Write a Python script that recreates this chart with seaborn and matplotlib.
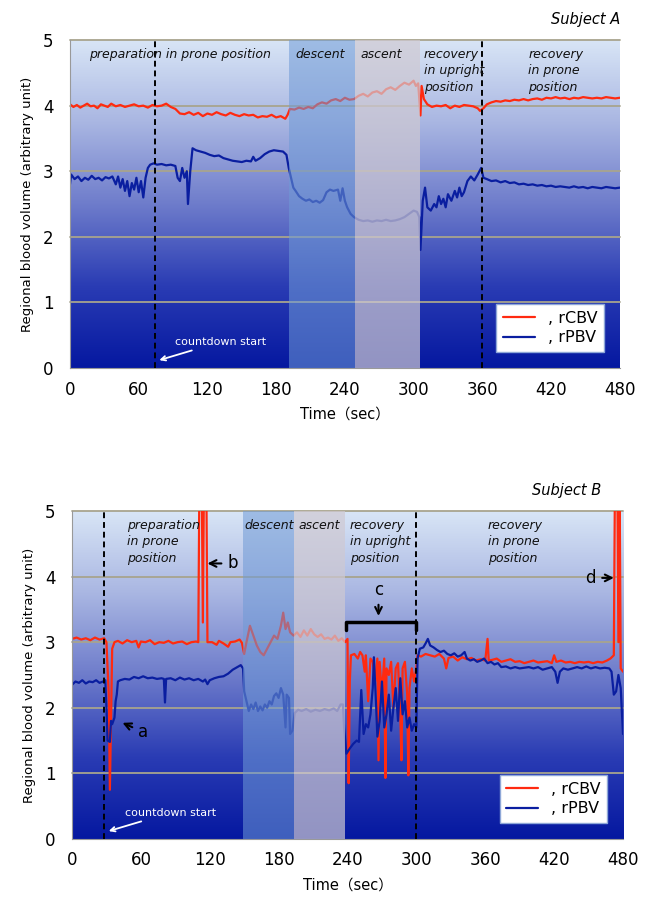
import numpy as np
import pandas as pd
import matplotlib
matplotlib.use("Agg")
import matplotlib.pyplot as plt
import seaborn as sns
from matplotlib.colors import LinearSegmentedColormap

# ---- Subject A ----
tA_cbv = [0, 3, 6, 9, 12, 15, 18, 21, 24, 27, 30, 33, 36, 40, 44, 48, 52, 56, 60, 64, 68, 72, 76, 80, 84, 88,
          92, 96, 100, 104, 108, 112, 116, 120, 124, 128, 132, 136, 140, 144, 148, 152, 156, 160, 164, 168, 172,
          176, 180, 184, 188, 190, 192, 196, 200, 204, 208, 212, 216, 220, 224, 228, 232, 236, 240, 244, 248, 252,
          256, 260, 264, 268, 272, 276, 280, 284, 288, 292, 296, 300, 302, 304, 306, 307, 309, 312, 316, 320, 324,
          328, 332, 336, 340, 344, 348, 352, 356, 358, 361, 364, 368, 372, 376, 380, 384, 388, 392, 396, 400, 404,
          408, 412, 416, 420, 424, 428, 432, 436, 440, 444, 448, 452, 456, 460, 464, 468, 472, 476, 480]
vA_cbv = [4.02, 3.98, 4.01, 3.97, 4.0, 4.03, 3.99, 4.0, 3.96, 4.02, 4.0, 3.98, 4.03, 3.99, 4.01, 3.98, 4.0, 4.02,
          3.99, 4.0, 3.97, 4.01, 3.99, 4.0, 4.03, 3.98, 3.95, 3.88, 3.87, 3.9, 3.86, 3.89, 3.84, 3.88, 3.86, 3.9,
          3.87, 3.85, 3.89, 3.86, 3.84, 3.87, 3.85, 3.86, 3.82, 3.84, 3.83, 3.86, 3.82, 3.84, 3.8, 3.86, 3.95, 3.94,
          3.97, 3.95, 3.98, 3.96, 4.02, 4.05, 4.03, 4.08, 4.1, 4.07, 4.12, 4.09, 4.1, 4.15, 4.18, 4.14, 4.2, 4.22,
          4.18, 4.25, 4.28, 4.24, 4.3, 4.35, 4.32, 4.38, 4.3, 4.34, 3.85, 4.3, 4.1, 4.02, 3.98, 4.0, 3.99, 4.01,
          3.96, 4.0, 3.98, 4.01, 4.0, 3.99, 3.96, 3.92, 3.96, 4.02, 4.05, 4.07, 4.06, 4.08, 4.07, 4.09, 4.08, 4.1,
          4.08, 4.1, 4.11, 4.09, 4.12, 4.11, 4.13, 4.11, 4.12, 4.1, 4.12, 4.11, 4.13, 4.12, 4.11, 4.12, 4.11, 4.13,
          4.12, 4.11, 4.12]

tA_pbv = [0, 1, 4, 7, 10, 13, 16, 19, 22, 25, 28, 31, 34, 37, 40, 42, 44, 46, 48, 50, 52, 54, 56, 58, 60, 62, 64,
          66, 68, 70, 73, 76, 80, 84, 88, 92, 94, 96, 98, 100, 102, 103, 105, 107, 110, 114, 118, 122, 126, 130, 134,
          138, 142, 146, 150, 154, 158, 160, 162, 166, 170, 174, 178, 182, 186, 189, 191, 193, 195, 197, 200, 203,
          206, 209, 212, 215, 218, 221, 224, 227, 230, 234, 236, 238, 240, 242, 245, 248, 252, 256, 260, 264, 268,
          272, 276, 280, 284, 288, 292, 296, 300, 303, 305, 306, 308, 310, 312, 315, 318, 320, 322, 324, 326, 328,
          330, 333, 336, 338, 340, 342, 344, 347, 350, 353, 356, 359, 361, 364, 368, 372, 376, 380, 384, 388, 392,
          396, 400, 404, 408, 412, 416, 420, 424, 428, 432, 436, 440, 444, 448, 452, 456, 460, 464, 468, 472, 476, 480]
vA_pbv = [2.8, 2.95, 2.88, 2.92, 2.85, 2.9, 2.87, 2.93, 2.88, 2.9, 2.86, 2.91, 2.89, 2.92, 2.8, 2.92, 2.75, 2.88,
          2.7, 2.85, 2.62, 2.82, 2.72, 2.9, 2.68, 2.85, 2.6, 2.9, 3.05, 3.1, 3.12, 3.1, 3.11, 3.09, 3.1, 3.08, 2.9,
          2.85, 3.05, 2.9, 3.0, 2.5, 3.0, 3.35, 3.32, 3.3, 3.28, 3.25, 3.23, 3.24, 3.2, 3.18, 3.16, 3.15, 3.14, 3.16,
          3.15, 3.22, 3.16, 3.2, 3.26, 3.3, 3.32, 3.31, 3.3, 3.25, 3.05, 2.9, 2.75, 2.7, 2.62, 2.58, 2.55, 2.57,
          2.53, 2.55, 2.52, 2.56, 2.68, 2.72, 2.7, 2.72, 2.55, 2.74, 2.55, 2.45, 2.35, 2.3, 2.26, 2.24, 2.25, 2.23,
          2.25, 2.24, 2.26, 2.24, 2.25, 2.27, 2.3, 2.35, 2.4, 2.38, 2.3, 1.8, 2.55, 2.75, 2.45, 2.4, 2.5, 2.45, 2.62,
          2.5, 2.58, 2.45, 2.65, 2.55, 2.7, 2.6, 2.75, 2.62, 2.68, 2.85, 2.92, 2.86, 2.95, 3.05, 2.9, 2.88, 2.85,
          2.86, 2.83, 2.85, 2.82, 2.83, 2.8, 2.81, 2.79, 2.8, 2.78, 2.79, 2.77, 2.78, 2.76, 2.77, 2.76, 2.75, 2.77,
          2.75, 2.76, 2.74, 2.76, 2.75, 2.74, 2.76, 2.75, 2.74, 2.75]

# ---- Subject B ----
tB_cbv = [0, 4, 8, 12, 16, 20, 24, 28, 30, 32, 33, 34, 35, 37, 40, 44, 48, 52, 56, 58, 60, 64, 68, 72, 76, 80, 84,
          88, 92, 96, 100, 104, 108, 110, 111, 113, 114, 115, 117, 118, 122, 126, 128, 132, 136, 138, 142, 146, 148,
          150, 152, 155, 158, 161, 164, 167, 170, 173, 176, 179, 182, 184, 186, 188, 190, 193, 196, 199, 202, 205,
          208, 211, 214, 217, 220, 223, 226, 229, 232, 235, 238, 240, 241, 242, 243, 246, 249, 251, 253, 255, 256,
          258, 260, 262, 264, 266, 267, 268, 270, 272, 273, 274, 276, 278, 280, 282, 284, 286, 287, 288, 290, 292,
          293, 294, 296, 298, 300, 301, 304, 308, 312, 316, 320, 324, 326, 328, 332, 336, 340, 344, 348, 352, 356,
          360, 362, 363, 366, 370, 374, 378, 382, 386, 390, 394, 398, 402, 406, 410, 414, 418, 420, 422, 426, 430,
          434, 438, 442, 446, 450, 454, 458, 462, 466, 469, 472, 473, 475, 476, 477, 478, 480]
vB_cbv = [3.05, 3.07, 3.04, 3.06, 3.03, 3.07, 3.04, 3.06, 3.0, 2.2, 0.75, 1.8, 2.9, 3.0, 3.02, 2.98, 3.03, 3.0,
          3.02, 2.92, 3.01, 3.0, 3.03, 2.97, 3.0, 2.99, 3.02, 2.98, 3.0, 3.01, 2.97, 3.0, 3.01, 3.0, 5.5, 5.5, 3.3,
          5.5, 5.5, 3.0, 3.0, 2.96, 3.02, 2.98, 2.93, 3.0, 3.01, 3.04, 2.99, 2.82, 3.0, 3.25, 3.1, 2.95, 2.85, 2.8,
          2.9, 3.0, 3.1, 3.05, 3.25, 3.45, 3.2, 3.3, 3.15, 3.1, 3.15, 3.08, 3.18, 3.1, 3.2, 3.12, 3.08, 3.12, 3.05,
          3.07, 3.04, 3.1, 3.02, 3.06, 3.0, 3.05, 0.85, 2.4, 2.8, 2.82, 2.75, 2.85, 2.8, 2.55, 2.8, 2.1, 2.75, 2.7,
          2.4, 2.75, 1.2, 2.7, 2.2, 2.75, 0.93, 2.6, 2.5, 2.7, 2.0, 2.6, 2.68, 1.9, 1.2, 2.6, 2.7, 2.2, 0.97, 2.3,
          2.6, 2.4, 2.62, 2.8, 2.78, 2.82, 2.8, 2.78, 2.82, 2.75, 2.6, 2.76, 2.78, 2.72, 2.77, 2.74, 2.76, 2.72,
          2.74, 2.72, 3.05, 2.72, 2.73, 2.75, 2.7, 2.72, 2.74, 2.7, 2.71, 2.68, 2.7, 2.72, 2.69, 2.7, 2.71, 2.68,
          2.8, 2.7, 2.72, 2.69, 2.7, 2.68, 2.7, 2.69, 2.7, 2.68, 2.7, 2.69, 2.72, 2.75, 2.8, 5.5, 5.5, 3.0, 5.5,
          2.6, 2.55]

tB_pbv = [0, 3, 6, 9, 12, 15, 18, 21, 24, 27, 29, 30, 31, 33, 34, 35, 37, 38, 39, 40, 42, 46, 50, 54, 58, 62, 66,
          70, 74, 78, 80, 81, 82, 86, 90, 94, 98, 102, 106, 110, 114, 116, 118, 120, 124, 128, 132, 136, 140, 144,
          147, 149, 150, 152, 154, 156, 158, 160, 162, 164, 166, 168, 170, 172, 174, 176, 178, 180, 182, 184, 186,
          187, 189, 190, 192, 194, 197, 200, 204, 208, 212, 216, 220, 224, 228, 231, 234, 236, 237, 239, 242, 245,
          248, 250, 252, 254, 256, 258, 260, 262, 263, 265, 266, 268, 270, 272, 274, 276, 278, 280, 282, 284, 286,
          288, 290, 292, 294, 296, 298, 300, 301, 303, 306, 308, 310, 312, 315, 318, 321, 324, 327, 330, 333, 336,
          339, 342, 344, 347, 350, 353, 356, 359, 362, 365, 368, 371, 374, 378, 382, 386, 390, 394, 398, 402, 406,
          410, 414, 418, 421, 423, 425, 428, 432, 436, 440, 444, 448, 452, 456, 460, 464, 468, 470, 472, 474, 476,
          478, 480]
vB_pbv = [2.35, 2.4, 2.38, 2.42, 2.37, 2.4, 2.39, 2.42, 2.38, 2.4, 2.42, 2.0, 1.5, 1.48, 1.8, 1.75, 1.85, 2.1, 2.2,
          2.4, 2.42, 2.44, 2.43, 2.47, 2.45, 2.48, 2.45, 2.46, 2.44, 2.45, 2.44, 2.08, 2.44, 2.45, 2.42, 2.46, 2.43,
          2.45, 2.42, 2.44, 2.4, 2.43, 2.36, 2.42, 2.45, 2.47, 2.48, 2.52, 2.58, 2.62, 2.65, 2.6, 2.25, 2.1, 1.95,
          2.05, 1.98, 2.08, 1.95, 2.02, 1.96, 2.05, 2.0, 2.1, 2.05, 2.18, 2.22, 2.15, 2.3, 2.2, 1.7, 2.2, 2.15, 1.6,
          1.65, 1.92, 1.97, 1.95, 1.98, 1.94, 1.97, 1.95, 1.98, 1.96, 1.99, 1.95, 2.05, 2.05, 1.7, 1.3, 1.38, 1.45,
          1.5, 1.48, 2.27, 1.6, 1.75, 1.7, 1.9, 2.3, 2.77, 2.0, 1.56, 1.8, 2.4, 1.7, 1.9, 2.2, 1.65, 2.0, 2.3, 1.8,
          2.45, 1.9, 2.1, 1.7, 1.85, 1.65, 1.75, 1.7, 2.75, 2.9, 2.92, 2.98, 3.05, 2.95, 2.92, 2.88, 2.85, 2.87,
          2.82, 2.8, 2.83, 2.78, 2.8, 2.85, 2.75, 2.72, 2.74, 2.7, 2.72, 2.75, 2.68, 2.7, 2.66, 2.68, 2.62, 2.63,
          2.6, 2.62, 2.6, 2.61, 2.62, 2.6, 2.62, 2.58, 2.6, 2.62, 2.55, 2.38, 2.55, 2.6, 2.58, 2.6, 2.62, 2.6, 2.63,
          2.6, 2.62, 2.6, 2.61, 2.6, 2.55, 2.2, 2.25, 2.5, 2.3, 1.6]

RED = "#ff2a10"
BLUE = "#0a1ea0"

sns.set_style("white")
plt.rcParams["font.family"] = ["DejaVu Sans", "Noto Sans CJK JP"]
plt.rcParams["text.color"] = "black"
plt.rcParams["xtick.color"] = "black"
plt.rcParams["ytick.color"] = "black"
plt.rcParams["axes.labelcolor"] = "black"

fig = plt.figure(figsize=(6.51, 9.06), dpi=100)
ax1 = fig.add_axes([0.1075, 0.5938, 0.8445, 0.362])
ax2 = fig.add_axes([0.1106, 0.074, 0.8464, 0.362])

bg = LinearSegmentedColormap.from_list("bg", ["#0518a0", "#2a3cb4", "#6e7ccb", "#a9b6e2", "#d8e5f6"])
grad = np.linspace(0, 1, 256).reshape(-1, 1)


def panel(ax, cbv, pbv, desc, asc, dashes, labels):
    ax.imshow(grad, extent=[0, 480, 0, 5], origin="lower", aspect="auto", cmap=bg, zorder=0)
    for yv in range(1, 6):
        ax.axhline(yv, color="#a8a48e", lw=1.3, zorder=1, clip_on=False)
    sns.lineplot(x=cbv[0], y=cbv[1], ax=ax, color=RED, lw=1.6, estimator=None, sort=False,
                 label=", rCBV", zorder=2)
    sns.lineplot(x=pbv[0], y=pbv[1], ax=ax, color=BLUE, lw=1.6, estimator=None, sort=False,
                 label=", rPBV", zorder=2)
    ax.axvspan(*desc, color="#6f9ad6", alpha=0.55, lw=0, zorder=3)
    ax.axvspan(*asc, color="#cfc9d2", alpha=0.7, lw=0, zorder=3)
    for d in dashes:
        ax.axvline(d, color="black", ls=(0, (3, 2)), lw=1.4, zorder=4)
    for x, txt in labels:
        ax.text(x, 4.88, txt, fontsize=9, style="italic", ha="left", va="top", color="#111111",
                linespacing=1.35, zorder=5)
    ax.set_xlim(0, 480)
    ax.set_ylim(0, 5)
    ax.set_xticks(range(0, 481, 60))
    ax.set_yticks(range(0, 6))
    ax.tick_params(axis="both", labelsize=12, length=4, color="#999999", direction="out", pad=5)
    ax.tick_params(axis="y", pad=8)
    for s in ["top", "right"]:
        ax.spines[s].set_visible(False)
    for s in ["left", "bottom"]:
        ax.spines[s].set_color("#999999")
    ax.set_xlabel("Time（sec）", fontsize=10.5, labelpad=6)
    ax.set_ylabel("Regional blood volume (arbitrary unit)", fontsize=9.5, labelpad=6)
    leg = ax.legend(loc="lower right", bbox_to_anchor=(0.985, 0.025), fontsize=11.5, frameon=True,
                    fancybox=False, handlelength=2.0, borderpad=0.4, labelspacing=0.3,
                    framealpha=1.0, facecolor="white")
    leg.get_frame().set_edgecolor("#8fa8d8")
    leg.get_frame().set_linewidth(1.0)
    leg.set_zorder(6)
    ax.annotate("countdown start", xy=(dashes[0] + 4, 0.12), xytext=(dashes[0] + 18, 0.4),
                fontsize=8, color="white", ha="left", va="center",
                arrowprops=dict(arrowstyle="->", color="white", lw=1.3, shrinkA=1, shrinkB=0), zorder=5)


panel(ax1, (tA_cbv, vA_cbv), (tA_pbv, vA_pbv), (191, 249), (249, 306), [74, 360],
      [(17, "preparation in prone position"), (197, "descent"), (254, "ascent"),
       (309, "recovery\nin upright\nposition"), (400, "recovery\nin prone\nposition")])
ax1.text(1.0, 1.04, "Subject A", transform=ax1.transAxes, ha="right", va="bottom",
         fontsize=10.5, style="italic")

panel(ax2, (tB_cbv, vB_cbv), (tB_pbv, vB_pbv), (149, 193), (193, 238), [28, 300],
      [(48, "preparation\nin prone\nposition"), (150, "descent"), (197, "ascent"),
       (242, "recovery\nin upright\nposition"), (362, "recovery\nin prone\nposition")])
ax2.text(0.96, 1.04, "Subject B", transform=ax2.transAxes, ha="right", va="bottom",
         fontsize=10.5, style="italic")

# letter annotations on subject B
akw = dict(arrowstyle="->", color="black", lw=1.5, shrinkA=2, shrinkB=0)
ax2.annotate("a", xy=(44, 1.77), xytext=(62, 1.63), fontsize=12, ha="center", va="center",
             color="black", arrowprops=akw, zorder=5)
ax2.annotate("b", xy=(118, 4.2), xytext=(140, 4.2), fontsize=12, ha="center", va="center",
             color="black", arrowprops=akw, zorder=5)
ax2.annotate("c", xy=(267, 3.4), xytext=(267, 3.8), fontsize=12, ha="center", va="center",
             color="black", arrowprops=akw, zorder=5)
ax2.annotate("d", xy=(472, 3.98), xytext=(452, 3.98), fontsize=12, ha="center", va="center",
             color="black", arrowprops=akw, zorder=5)
ax2.plot([239, 239, 300, 300], [3.18, 3.3, 3.3, 3.18], color="black", lw=2.5, zorder=5)

fig.savefig("out.png", dpi=100)
